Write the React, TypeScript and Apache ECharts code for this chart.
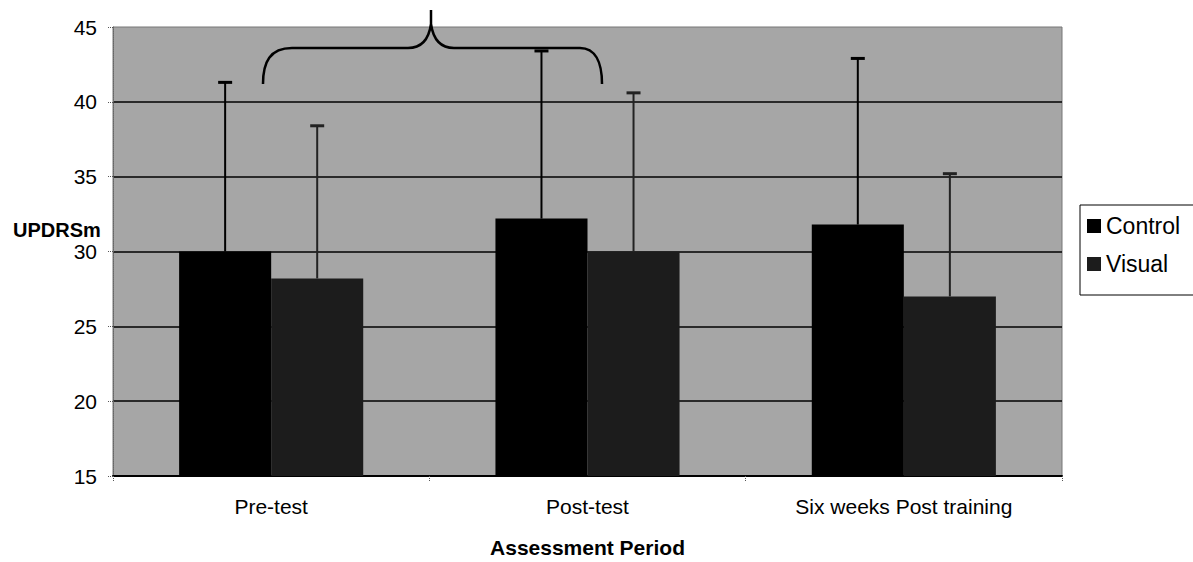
import React, { useEffect, useRef } from "react";
import * as echarts from "echarts";

const categories = ["Pre-test", "Post-test", "Six weeks Post training"];
const controlMeans = [30.0, 32.2, 31.8];
const visualMeans = [28.2, 30.0, 27.0];
const controlUpper = [41.3, 43.4, 42.9];
const visualUpper = [38.4, 40.6, 35.2];
const yTicks = { min: 15, max: 45, interval: 5 };
const yAxisTitle = "UPDRSm";
const xAxisTitle = "Assessment Period";

const BAR_CAT_GAP = 0.418;
const FONT = "'Liberation Sans', Arial, Helvetica, sans-serif";

const braceD =
  "M263,84 C263,62 270,48 292,48 L408,48 C422,48 429,38 431,24 L431,10 M431,24 C433,38 440,48 454,48 L580,48 C595,48 602,62 602,84";
echarts.graphic.registerShape("brace", echarts.graphic.extendPath(braceD, {}));

function errorSeries(name: string, means: number[], upper: number[], offset: number, color: string) {
  return {
    name,
    type: "custom",
    z: 5,
    data: means.map((m, i) => [i, m, upper[i]]),
    encode: { x: 0, y: [1, 2] },
    renderItem: (params: any, api: any) => {
      const cat = api.value(0);
      const base = api.coord([cat, api.value(1)]);
      const top = api.coord([cat, api.value(2)]);
      const band = api.size([1, 0])[0];
      const barW = (band * (1 - BAR_CAT_GAP)) / 2;
      const x = base[0] + offset * barW;
      return {
        type: "group",
        children: [
          { type: "line", shape: { x1: x, y1: base[1], x2: x, y2: top[1] }, style: { stroke: color, lineWidth: 2 } },
          { type: "line", shape: { x1: x - 7, y1: top[1], x2: x + 7, y2: top[1] }, style: { stroke: color, lineWidth: 3 } },
        ],
      };
    },
  };
}

export default function App() {
  const ref = useRef<HTMLDivElement>(null);
  useEffect(() => {
    if (!ref.current) return;
    const chart = echarts.init(ref.current, null, { renderer: "svg" });
    chart.setOption({
      animation: false,
      backgroundColor: "#fff",
      textStyle: { fontFamily: FONT, color: "#000" },
      title: {
        text: yAxisTitle,
        left: 13,
        top: 219,
        padding: 0,
        textStyle: { fontSize: 20, fontWeight: "bold", color: "#000", fontFamily: FONT, lineHeight: 22 },
      },
      grid: {
        left: 113,
        right: 131,
        top: 27,
        bottom: 86,
        show: true,
        backgroundColor: "#a6a6a6",
        borderColor: "#777",
        borderWidth: 1,
        containLabel: false,
        outerBoundsMode: "none",
      },
      legend: {
        data: ["Control", "Visual"],
        orient: "vertical",
        left: 1080,
        top: 205,
        padding: [9, 40, 19, 7],
        itemWidth: 14,
        itemHeight: 14,
        itemGap: 14,
        icon: "rect",
        borderColor: "#000",
        borderWidth: 1,
        backgroundColor: "#fff",
        textStyle: { fontSize: 23, lineHeight: 24, color: "#000", fontFamily: FONT },
      },
      xAxis: {
        type: "category",
        data: categories,
        name: xAxisTitle,
        nameLocation: "middle",
        nameGap: 61,
        nameTextStyle: { fontSize: 21, fontWeight: "bold", color: "#000", fontFamily: FONT },
        axisLine: { show: true, lineStyle: { color: "#000", width: 2 } },
        axisTick: { show: true, length: 5, lineStyle: { color: "#555", type: "dotted" } },
        axisLabel: { fontSize: 21, color: "#000", margin: 20, fontFamily: FONT },
        splitLine: { show: false },
      },
      yAxis: {
        type: "value",
        min: yTicks.min,
        max: yTicks.max,
        interval: yTicks.interval,
        axisLine: { show: true, lineStyle: { color: "#666", width: 1, type: "dotted" } },
        axisTick: { show: true, length: 6, lineStyle: { color: "#555", type: "dotted" } },
        axisLabel: { fontSize: 21, color: "#000", margin: 16, fontFamily: FONT },
        splitLine: { show: true, showMaxLine: false, lineStyle: { color: "#000", width: 1.5 } },
      },
      series: [
        {
          name: "Control",
          type: "bar",
          data: controlMeans,
          barGap: "0%",
          barCategoryGap: BAR_CAT_GAP * 100 + "%",
          itemStyle: { color: "#000" },
          z: 3,
        },
        {
          name: "Visual",
          type: "bar",
          data: visualMeans,
          barGap: "0%",
          barCategoryGap: BAR_CAT_GAP * 100 + "%",
          itemStyle: { color: "#1c1c1c" },
          z: 3,
        },
        errorSeries("Control SD", controlMeans, controlUpper, -0.5, "#000"),
        errorSeries("Visual SD", visualMeans, visualUpper, 0.5, "#222"),
      ],
      graphic: [
        {
          type: "brace",
          x: 0,
          y: 0,
          z: 100,
          silent: true,
          style: { stroke: "#000", fill: "none", lineWidth: 2.5 },
        },
      ],
    });
    return () => chart.dispose();
  }, []);
  return <div ref={ref} style={{ position: "absolute", left: 0, top: 0, width: 1193, height: 562 }} />;
}
